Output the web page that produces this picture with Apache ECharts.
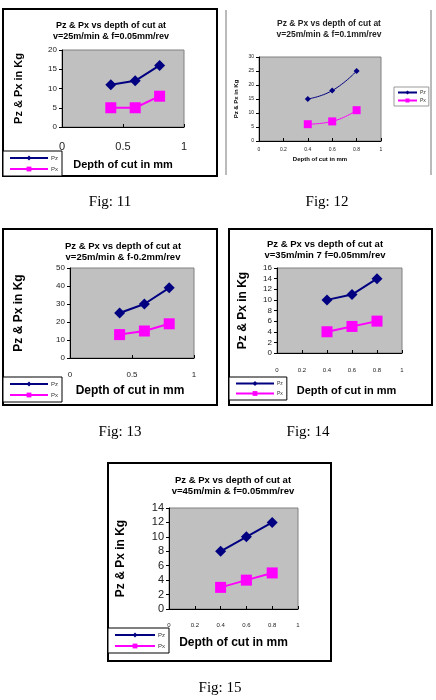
<!DOCTYPE html>
<html>
<head>
<meta charset="utf-8">
<script src="https://cdn.jsdelivr.net/npm/echarts@6/dist/echarts.min.js"></script>
<style>
    html, body { margin: 0; padding: 0; background: #fff; }
    #main { width: 436px; height: 700px; }
</style>
</head>
<body>
<div id="main"></div>
<script>
// depth of cut (mm)
var depth = [0.4, 0.6, 0.8];
// Fig 11..15 forces (Kg)
var pz11 = [11, 12, 16], px11 = [5, 5, 8];
var pz12 = [15, 18, 25], px12 = [6, 7, 11];
var pz13 = [25, 30, 39], px13 = [13, 15, 19];
var pz14 = [10, 11, 14], px14 = [4, 5, 6];
var pz15 = [8, 10, 12], px15 = [3, 4, 5];
var titles = [
    'Pz & Px vs depth of cut at\nv=25m/min & f=0.05mm/rev',
    'Pz & Px vs depth of cut at\nv=25m/min & f=0.1mm/rev',
    'Pz & Px vs depth of cut at\nv=25m/min & f-0.2mm/rev',
    'Pz & Px vs depth of cut at\nv=35m/min 7 f=0.05mm/rev',
    'Pz & Px vs depth of cut at\nv=45m/min & f=0.05mm/rev'
];
var captions = ['Fig: 11', 'Fig: 12', 'Fig: 13', 'Fig: 14', 'Fig: 15'];
var yTicks = [[0, 20, 5], [0, 30, 5], [0, 50, 10], [0, 16, 2], [0, 14, 2]];
var xTicks = [0.5, 0.2, 0.5, 0.2, 0.2];

var SANS = 'Liberation Sans, Arial, sans-serif';

// layout of each panel (box, plot area, fonts...)
var panels = [
    { pz: pz11, px: px11, box: [3, 9, 214, 167], grid: [62, 50, 122, 77],
      tx: 111, ty: 20, tf: 9, cap: [110, 202], xl: 11, xm: 14, yl: 8, nf: 11, xnf: 11, yg: 38, xg: 32, xs: 0,
      leg: [3, 151], lw: 38, lf: 6, big: true },
    { pz: pz12, px: px12, box: null, grid: [259, 57, 122, 84],
      tx: 329, ty: 18, tf: 8.5, cap: [327, 202], xl: 5, xm: 6, yl: 5, nf: 6, xnf: 6, yg: 20, xg: 15, xs: 0,
      leg: [394, 87], lw: 19, lf: 5, big: false },
    { pz: pz13, px: px13, box: [3, 229, 214, 176], grid: [70, 268, 124, 90],
      tx: 123, ty: 241, tf: 9.5, cap: [120, 432], xl: 8, xm: 13, yl: 8, nf: 12, xnf: 12, yg: 45, xg: 27, xs: -2,
      leg: [3, 377], lw: 38, lf: 6, big: true },
    { pz: pz14, px: px14, box: [229, 229, 203, 176], grid: [277, 268, 125, 85],
      tx: 325, ty: 239, tf: 9.5, cap: [308, 432], xl: 6, xm: 14, yl: 8, nf: 12, xnf: 11, yg: 28, xg: 32, xs: 7,
      leg: [229, 377], lw: 38, lf: 5, big: true },
    { pz: pz15, px: px15, box: [108, 463, 223, 198], grid: [169, 508, 129, 101],
      tx: 233, ty: 475, tf: 9.5, cap: [220, 688], xl: 6, xm: 13, yl: 11, nf: 12, xnf: 12, yg: 42, xg: 28, xs: 0,
      leg: [108, 628], lw: 40, lf: 6, big: true }
];

function pairs(xs, ys) {
    return xs.map(function (x, i) { return [x, ys[i]]; });
}

var myChart = echarts.init(document.getElementById('main'));
var option = {
    backgroundColor: '#fff',
    animation: false,
    title: [], grid: [], xAxis: [], yAxis: [], legend: [], series: [], graphic: []
};

panels.forEach(function (p, i) {
    option.title.push({
        text: titles[i], left: p.tx, top: p.ty, textAlign: 'center', padding: 0,
        textStyle: { fontSize: p.tf, fontWeight: 'bold', lineHeight: 11,
                     fontFamily: SANS, color: p.big ? '#000' : '#222' }
    });
    option.grid.push({
        left: p.grid[0], top: p.grid[1], width: p.grid[2], height: p.grid[3],
        show: true, backgroundColor: '#c0c0c0', borderColor: '#808080', borderWidth: 1
    });
    // xs shifts the axis title sideways (odd placements in the original)
    var xpad = p.xs > 0 ? [0, 0, 0, p.xs * 2] : [0, -p.xs * 2, 0, 0];
    option.xAxis.push({
        type: 'value', gridIndex: i, min: 0, max: 1, interval: xTicks[i],
        name: 'Depth of cut in mm', nameLocation: 'middle', nameGap: p.xg,
        nameTextStyle: { fontSize: p.xnf, fontWeight: 'bold', fontFamily: SANS, color: '#000', padding: xpad },
        axisLine: { lineStyle: { color: '#000', width: 1 } },
        axisTick: { show: true, length: 3, inside: true, lineStyle: { color: '#000' } },
        axisLabel: { fontSize: p.xl, margin: p.xm, color: '#222', fontFamily: SANS },
        splitLine: { show: false }
    });
    option.yAxis.push({
        type: 'value', gridIndex: i, min: yTicks[i][0], max: yTicks[i][1], interval: yTicks[i][2],
        name: 'Pz & Px in Kg', nameLocation: 'middle', nameGap: p.yg,
        nameTextStyle: { fontSize: p.nf, fontWeight: 'bold', fontFamily: SANS, color: '#000' },
        axisLine: { show: true, lineStyle: { color: '#000', width: 1 } },
        axisTick: { show: true, length: 3, lineStyle: { color: '#000' } },
        axisLabel: { fontSize: p.yl, margin: 5, color: '#222', fontFamily: SANS },
        splitLine: { show: false }
    });
    option.legend.push({
        data: ['Pz', 'Px'], orient: 'vertical', left: p.leg[0], top: p.leg[1],
        itemWidth: p.lw, itemHeight: p.big ? 6 : 5, itemGap: p.big ? 5 : 3,
        padding: p.big ? [4, 4, 4, 6] : [3, 3, 3, 3],
        backgroundColor: '#fff', borderColor: p.big ? '#000' : '#999', borderWidth: 1,
        textStyle: { fontSize: p.lf, color: '#333', fontFamily: SANS, padding: [0, 0, 0, -2] }
    });
    option.series.push({
        name: 'Pz', type: 'line', xAxisIndex: i, yAxisIndex: i,
        data: pairs(depth, p.pz), smooth: !p.big,
        symbol: 'diamond', symbolSize: p.big ? 11 : 6,
        lineStyle: { color: '#000080', width: p.big ? 2 : 1 },
        itemStyle: { color: '#000080' }
    });
    option.series.push({
        name: 'Px', type: 'line', xAxisIndex: i, yAxisIndex: i,
        data: pairs(depth, p.px), smooth: !p.big,
        symbol: 'rect', symbolSize: p.big ? 11 : 8,
        lineStyle: { color: '#ff00ff', width: p.big ? 2 : 1 },
        itemStyle: { color: '#ff00ff' }
    });
    if (p.box) {
        option.graphic.push({
            type: 'rect', z: -1, silent: true,
            shape: { x: p.box[0], y: p.box[1], width: p.box[2], height: p.box[3] },
            style: { fill: null, stroke: '#000', lineWidth: 2 }
        });
    }
    option.graphic.push({
        type: 'text', x: p.cap[0], y: p.cap[1],
        style: { text: captions[i], font: '15px "Liberation Serif", "Times New Roman", serif',
                 fill: '#000', align: 'center', verticalAlign: 'middle' }
    });
});

// Fig 12 only has thin side rules
[226, 431].forEach(function (x) {
    option.graphic.push({
        type: 'line', silent: true,
        shape: { x1: x, y1: 10, x2: x, y2: 175 },
        style: { stroke: '#777', lineWidth: 1 }
    });
});

myChart.setOption(option);
</script>
</body>
</html>
